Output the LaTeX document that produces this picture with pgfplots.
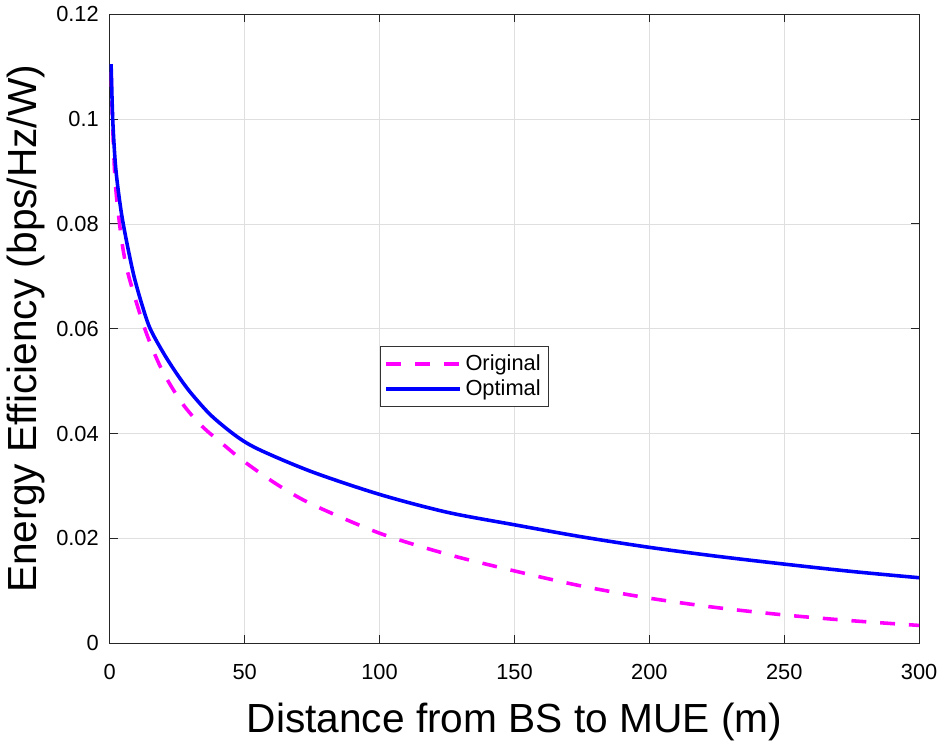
\documentclass[border=0pt]{standalone}
\usepackage{fontspec}
\setmainfont{Liberation Sans}
\usepackage{pgfplots}
\pgfplotsset{compat=1.18}
\definecolor{mag}{rgb}{1,0,1}
\begin{document}
\begin{tikzpicture}
\begin{axis}[
    scale only axis,
    width=408pt, height=317pt,
    xmin=0, xmax=300,
    ymin=0, ymax=0.12,
    xtick={0,50,100,150,200,250,300},
    ytick={0,0.02,0.04,0.06,0.08,0.1,0.12},
    scaled y ticks=false,
    yticklabel style={/pgf/number format/fixed, /pgf/number format/precision=2},
    /pgf/number format/assume math mode=true,
    tick label style={font=\fontsize{11}{13}\selectfont},
    xticklabel style={yshift=-7pt},
    yticklabel style={xshift=-2pt},
    xlabel={Distance from BS to MUE (m)},
    ylabel={Energy Efficiency (bps/Hz/W)},
    label style={font=\fontsize{20.5}{24}\selectfont},
    xlabel style={at={(axis description cs:0.5,0)}, anchor=base, yshift=-45pt},
    ylabel style={at={(axis description cs:-0.104,0.5)}, anchor=center},
    grid=major,
    major grid style={gray!25, line width=0.4pt},
    axis line style={black!85, line width=0.5pt},
    tick style={black!85, line width=0.5pt},
    tick align=inside,
    major tick length=4pt,
    legend style={at={(0.334,0.472)}, anchor=north west,
        font=\fontsize{11}{13}\selectfont, draw=black!80, line width=0.5pt,
        inner sep=2pt, row sep=-1pt},
    legend cell align=left,
    legend image code/.code={\draw[#1] (0pt,0pt) -- (37pt,0pt);},
]
\addplot[mag, line width=1.8pt, dash pattern=on 7.5pt off 7pt, smooth, tension=0.5] coordinates {
    (0.5,0.109) (1,0.100) (1.8,0.090) (2.8,0.0837) (4.8,0.0756) (7.1,0.0699)
    (13.2,0.0597) (19.3,0.0522) (26.7,0.0459) (34,0.0415) (42.6,0.0377)
    (50,0.0346) (62,0.0303) (75,0.0265) (100,0.0210) (125,0.0170)
    (150,0.0138) (175,0.0109) (200,0.0086) (225,0.0068) (250,0.0054)
    (275,0.0043) (300,0.0034)
};
\addlegendentry{Original}
\addplot[blue, line width=1.8pt, smooth, tension=0.5] coordinates {
    (0.5,0.1105) (1.1,0.100) (2,0.092) (3,0.087) (4.5,0.0815) (6.5,0.0760)
    (9,0.0700) (12,0.0645) (15,0.0600) (20,0.0553) (25,0.0513) (30,0.0478)
    (37.7,0.0434) (47.5,0.0393) (56,0.0368) (75,0.0327) (100,0.0284)
    (125,0.0250) (150,0.0226) (175,0.0203) (200,0.0183) (225,0.0166)
    (250,0.0151) (275,0.0137) (300,0.0125)
};
\addlegendentry{Optimal}
\end{axis}
\end{tikzpicture}
\end{document}
